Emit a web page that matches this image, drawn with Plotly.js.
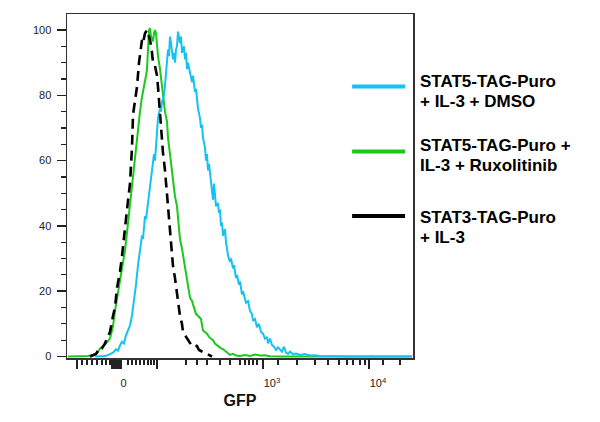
<!DOCTYPE html>
<html>
<head>
<meta charset="utf-8">
<script src="https://cdn.plot.ly/plotly-3.0.1.min.js"></script>
<style>html,body{margin:0;padding:0;background:#fff;}#chart{width:600px;height:422px;}</style>
</head>
<body>
<div id="chart"></div>
<script>
// GFP display channel (biexponential display, 106 channels per decade)
const blueX = [150,155,159,162,165,168,171,173,175,177,179,181,183,185,187,189,191,193,195,197,198,200,201,203,205,207,209,210,212,213,215,216,217,219,220,222,223,224,225,226,227,228,229,230,231,232,233,234,235,236,237,239,240,241,242,243,245,247,248,250,251,253,255,256,257,258,260,261,262,263,264,265,267,268,269,270,271,273,274,275,276,277,278,280,281,283,285,286,288,289,291,292,294,295,297,298,300,301,303,305,307,308,310,312,314,316,318,320,322,323,325,327,329,331,333,335,337,339,341,343,345,348,351,355,360,365,370,375,385,395,405,467];
const blueY = [0,0,0.2,0.3,0.8,1.2,2.2,1.8,3.4,4.5,4.0,6.5,8.0,9.5,12.5,17,22,28,33,37,36,43,42,48,52,57,62,60,70,73,76,75,78,80,83,91,94,92,98,96,92,91,93,90,94,95,99.5,97,96,98,93,95,91,93,88,90,87,84,86,81,82,76,73,70,71,67,64,60,62,57,59,56,52,48,53,50,46,47,44,45,40,41,37,39,35,31,29,30,27,28,24,25,22,23,19,20,18,16.5,17,14,13,11,11.5,9,10,7.5,7,5.5,6,4,5.5,3.5,3,2,2.8,2,1.5,3,1.2,0.8,1.5,0.7,0.9,0.5,0.8,0.3,0.4,0.2,0.1,0.2,0,0];

const greenX = [123,135,143,148,152,155,158,161,163,165,167,168,170,172,174,176,178,180,182,183,185,187,188,190,192,193,195,197,198,200,201,202,203,204,205,206,207,208,209,210,211,212,213,215,217,218,220,222,223,225,227,228,230,232,233,235,237,239,241,243,245,247,249,251,253,255,256,258,260,262,264,266,268,270,272,274,276,278,280,282,285,288,291,295,300,305,310,315,320,325,335,467];
const greenY = [0,0,0.2,0.5,1.0,2.5,3.2,4.0,4.8,5.5,8,9.3,14,17.6,21,24,28,32.5,38,41,46,51,55,60,66,70,75,79.5,81,83.5,86,88,94,100,100.5,98,97.5,96.5,99,100,99,95,92,88,82,79,75,72,67,62,56,53,49,46,42,36,33,29,25,21,18,17,15,13,12.5,12,11.5,8,7.5,7,6,5.5,5,4,3.5,3,2.5,2.3,1.7,1.3,0.5,0.8,0.3,0.2,0.5,0.2,0.6,0.3,0.4,0.1,0,0];

const blackX = [145,148,151,153,155,157,160,163,165,168,170,172,175,177,180,182,185,187,188,190,192,194,195,197,198,200,202,204,205,207,208,210,212,213,215,217,218,220,222,223,225,227,228,230,232,233,235,237,238,240,242,245,247,250,252,254,256,258,260,262,264,267];
const blackY = [0,0.3,0.8,1.8,1.4,2.5,4,6.3,7.5,12.4,15,21,26,30.7,40,45,53,64,74,78,82.6,90,93,97,96,99,100,98,97,93,90,89,86,82.6,74,68.5,62.4,57,50,45,39,30,27.7,24,20,17,12.4,10,7.5,6.5,5.4,4,3.2,3.5,3.2,2,1.7,1.4,1.0,0.8,0.4,0];

const seriesNames = [
  ["STAT5-TAG-Puro", "+ IL-3 + DMSO"],
  ["STAT5-TAG-Puro +", "IL-3 + Ruxolitinib"],
  ["STAT3-TAG-Puro", "+ IL-3"]
];
const seriesColors = ["#14C3F2", "#1CC81C", "#000000"];

// axis ticks (display channels)
const xRange = [122, 468];
const xLabelTicks = [169.5, 318, 424];
const xLabels = ["0", "10<sup>3</sup>", "10<sup>4</sup>"];
const xTallTicks = [132, 167, 168.5, 169.5, 171, 172.5, 174, 175.5, 212, 318, 424];
const xMinorTicks = [137,142,147,152,157,161,165,183,187,191,195,199,203,206,209,241,252,262,275,285,295,300,304,308,312,333,352,370,383,394,402,408,415,420,438,455];
const yTicks = [0, 20, 40, 60, 80, 100];

const font = "Arial, 'Liberation Sans', sans-serif";

const traces = [
  {x: blackX, y: blackY, xaxis: "x2", mode: "lines", line: {color: seriesColors[2], width: 2.6, dash: "10px,6px"}, name: seriesNames[2].join(" "), showlegend: false},
  {x: greenX, y: greenY, mode: "lines", line: {color: seriesColors[1], width: 2}, name: seriesNames[1].join(" "), showlegend: false},
  {x: blueX, y: blueY, mode: "lines", line: {color: seriesColors[0], width: 2}, name: seriesNames[0].join(" "), showlegend: false}
];

// legend drawn beside the frame (solid sample lines as in the original)
const legendLineY = [0.789, 0.600, 0.413];
const legendTextY = [[0.804, 0.745], [0.618, 0.560], [0.409, 0.350]];
const shapes = [];
const annotations = [];
seriesNames.forEach((lines, i) => {
  shapes.push({type: "line", xref: "paper", yref: "paper", x0: 0.824, x1: 0.977,
    y0: legendLineY[i], y1: legendLineY[i], line: {color: seriesColors[i], width: 4}});
  lines.forEach((t, j) => {
    annotations.push({xref: "paper", yref: "paper", x: 1.015, y: legendTextY[i][j],
      xanchor: "left", yanchor: "middle", showarrow: false, text: "<b>" + t + "</b>",
      font: {family: font, size: 17, color: "#000"}});
  });
});

const layout = {
  width: 600, height: 422,
  margin: {l: 67, r: 187, t: 14, b: 64, pad: 0},
  paper_bgcolor: "#fff", plot_bgcolor: "#fff",
  showlegend: false,
  xaxis: {
    range: xRange, showgrid: false, zeroline: false,
    showline: true, mirror: true, linecolor: "#333", linewidth: 1.5,
    tickmode: "array", tickvals: xTallTicks, showticklabels: false,
    ticks: "outside", ticklen: 9, tickwidth: 2, tickcolor: "#222",
    minor: {tickmode: "array", tickvals: xMinorTicks, ticks: "outside", ticklen: 5, tickwidth: 1.5, tickcolor: "#222", showgrid: false}
  },
  xaxis2: {
    range: xRange, overlaying: "x", anchor: "y", side: "bottom",
    showgrid: false, zeroline: false, showline: false,
    tickmode: "array", tickvals: xLabelTicks, ticktext: xLabels,
    ticks: "outside", ticklen: 9, tickwidth: 2, tickcolor: "#222",
    ticklabelshift: 9, ticklabelstandoff: 6,
    tickfont: {family: font, size: 11, color: "#222"},
    title: {text: "<b>GFP</b>", font: {family: font, size: 16, color: "#111"}, standoff: 6}
  },
  yaxis: {
    range: [-0.45, 104.9], showgrid: false, zeroline: false,
    showline: true, mirror: true, linecolor: "#333", linewidth: 1.5,
    tickmode: "array", tickvals: yTicks, ticktext: yTicks.map(String),
    ticks: "outside", ticklen: 9, tickwidth: 1.5, tickcolor: "#222",
    ticklabelstandoff: 3,
    tickfont: {family: font, size: 11, color: "#222"},
    minor: {dtick: 5, tick0: 0, ticks: "outside", ticklen: 5, tickwidth: 1.2, tickcolor: "#222", showgrid: false}
  },
  shapes: shapes,
  annotations: annotations
};

Plotly.newPlot("chart", traces, layout, {displayModeBar: false, staticPlot: true});
</script>
</body>
</html>
